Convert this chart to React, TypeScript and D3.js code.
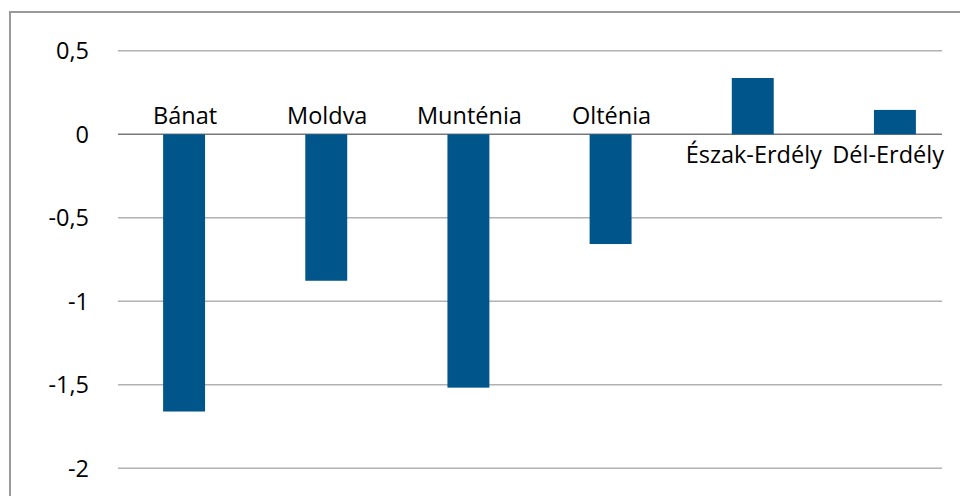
import React, { useEffect, useRef } from 'react'
import * as d3 from 'd3'

// regions and their values
const regions = ['Bánat', 'Moldva', 'Munténia', 'Olténia', 'Észak-Erdély', 'Dél-Erdély']
const values = [-1.66, -0.877, -1.517, -0.657, 0.337, 0.146]

// y axis ticks (comma decimals, as in the original)
const tickValues = [0.5, 0, -0.5, -1, -1.5, -2]
const tickLabels = ['0,5', '0', '-0,5', '-1', '-1,5', '-2']

const FONT = '"Open Sans", "Noto Sans", sans-serif'
const BAR = '#00558a'

export default function App() {
    const ref = useRef<SVGSVGElement>(null)

    useEffect(() => {
        const svg = d3.select(ref.current)
        svg.selectAll('*').remove()

        const width = 960, height = 496

        // frame of the chart, cut off at right and bottom
        svg.append('rect')
            .attr('x', 10).attr('y', 12)
            .attr('width', width + 20).attr('height', height + 20)
            .attr('fill', '#fff')
            .attr('stroke', '#9a9a9a')
            .attr('stroke-width', 2)

        const y = d3.scaleLinear().domain([-2, 0.5]).range([468.3, 50.8])
        const x = d3.scaleBand<string>()
            .domain(regions)
            .range([113, 966])
            .paddingInner(0.705)
            .paddingOuter(0.3525)

        const gridLeft = 118, gridRight = 942

        // gridlines
        svg.append('g')
            .selectAll('line')
            .data(tickValues)
            .enter().append('line')
            .attr('x1', gridLeft).attr('x2', gridRight)
            .attr('y1', d => y(d)).attr('y2', d => y(d))
            .attr('stroke', d => d === 0 ? '#7a7a7a' : '#b2b2b2')
            .attr('stroke-width', 1.4)

        // tick labels
        svg.append('g')
            .selectAll('text')
            .data(tickValues)
            .enter().append('text')
            .attr('x', 89)
            .attr('y', d => y(d))
            .attr('dy', '0.36em')
            .attr('text-anchor', 'end')
            .attr('font-family', FONT)
            .attr('font-size', 23.5)
            .attr('fill', '#000')
            .text((d, i) => tickLabels[i])

        // bars
        svg.append('g')
            .selectAll('rect')
            .data(values)
            .enter().append('rect')
            .attr('x', (d, i) => x(regions[i]) as number)
            .attr('y', d => y(Math.max(0, d)))
            .attr('width', x.bandwidth())
            .attr('height', d => Math.abs(y(d) - y(0)))
            .attr('fill', BAR)

        // category labels: above zero for negative bars, below for positive ones
        const labels = svg.append('g')
            .selectAll('text')
            .data(values)
            .enter().append('text')
            .attr('y', d => d < 0 ? y(0) - 10 : y(0) + 29)
            .attr('text-anchor', 'middle')
            .attr('font-family', FONT)
            .attr('font-size', 23.5)
            .attr('fill', '#000')
            .text((d, i) => regions[i])

        // keep the last label inside the chart's right edge
        labels.attr('x', function (d, i) {
            const cx = (x(regions[i]) as number) + x.bandwidth() / 2 + 1
            const w = (this as SVGTextElement).getComputedTextLength()
            return Math.min(cx, 944 - w / 2)
        })
    }, [])

    return (
        <svg ref={ref} width={960} height={496}
            style={{ position: 'absolute', left: 0, top: 0, display: 'block' }} />
    )
}
